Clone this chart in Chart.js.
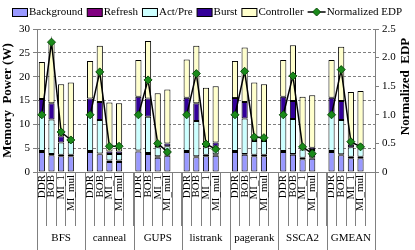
<!DOCTYPE html>
<html>
<head>
<meta charset="utf-8">
<script src="https://cdn.jsdelivr.net/npm/chart.js@4"></script>
<style>
  html, body { margin: 0; padding: 0; background: #fff; }
  #wrap { width: 415px; height: 250px; }
</style>
</head>
<body>
<div id="wrap"><canvas id="chart"></canvas></div>
<script>
// benchmarks and memory configs
const groups = ['BFS', 'canneal', 'GUPS', 'listrank', 'pagerank', 'SSCA2', 'GMEAN'];
const configs = ['DDR', 'BOB', 'MI_1', 'MI_mul'];

// power components (W), 4 configs per benchmark, in group order
const background = [4.2, 3.5, 3.3, 3.3, 4.2, 3.7, 2.1, 2.1, 4.3, 3.8, 3.0, 3.4, 4.2, 3.1, 3.3, 3.4, 4.2, 3.6, 3.3, 3.3, 4.2, 3.6, 2.7, 2.8, 4.2, 3.5, 2.9, 2.9];
const refresh = [0.2, 0.3, 0.3, 0.3, 0.2, 0.2, 0.3, 0.3, 0.2, 0.2, 0.3, 0.3, 0.2, 0.2, 0.3, 0.3, 0.2, 0.2, 0.3, 0.3, 0.2, 0.2, 0.3, 0.3, 0.2, 0.2, 0.3, 0.3];
const actPre = [7.9, 7.2, 2.6, 2.7, 7.7, 7.0, 1.4, 1.4, 7.6, 7.6, 1.9, 1.7, 7.7, 7.4, 1.6, 1.6, 7.7, 7.4, 2.9, 2.9, 7.7, 7.3, 1.7, 1.5, 7.7, 7.2, 2.0, 1.8];
const burst = [3.0, 3.4, 1.3, 0.4, 3.3, 3.8, 0.5, 0.5, 3.7, 3.8, 0.4, 0.6, 3.5, 3.7, 0.4, 0.9, 3.4, 3.5, 0.5, 0.6, 3.7, 3.8, 0.4, 0.5, 3.5, 4.0, 0.5, 0.6];
const controller = [7.8, 12.8, 10.9, 12.1, 7.9, 11.8, 10.3, 10.1, 7.7, 12.1, 10.9, 11.3, 8.0, 12.1, 12.1, 11.8, 7.8, 11.4, 11.8, 11.3, 7.7, 11.7, 10.7, 11.0, 7.9, 11.4, 11.1, 11.4];
// normalized EDP (right axis)
const edp = [1, 2.27, 0.70, 0.56, 1, 1.75, 0.45, 0.45, 1, 1.61, 0.50, 0.35, 1, 1.72, 0.49, 0.40, 1, 1.76, 0.61, 0.60, 1, 1.68, 0.44, 0.32, 1, 1.79, 0.53, 0.44];

// one empty slot after each benchmark
const labels = [];
groups.forEach(() => { configs.forEach(c => labels.push(c)); labels.push(''); });
function withGaps(arr) {
  const out = [];
  groups.forEach((g, gi) => {
    configs.forEach((c, ci) => out.push(arr[gi * configs.length + ci]));
    out.push(null);
  });
  return out;
}

const FONT = "'Liberation Serif', 'Times New Roman', serif";
Chart.defaults.font.family = FONT;
Chart.defaults.color = '#000';

const GREEN = '#1a8a1a';
const GREEN_EDGE = '#0b4d0b';

const barDefaults = {
  type: 'bar',
  borderColor: '#000',
  borderWidth: 1,
  borderSkipped: false,
  barPercentage: 0.64,
  categoryPercentage: 1,
  yAxisID: 'y',
  order: 2
};

const datasets = [
  { ...barDefaults, label: 'Background', data: withGaps(background), backgroundColor: '#9999ff' },
  { ...barDefaults, label: 'Refresh', data: withGaps(refresh), backgroundColor: '#800080' },
  { ...barDefaults, label: 'Act/Pre', data: withGaps(actPre), backgroundColor: '#ccffff' },
  { ...barDefaults, label: 'Burst', data: withGaps(burst), backgroundColor: '#330099' },
  { ...barDefaults, label: 'Controller', data: withGaps(controller), backgroundColor: '#ffffcc' },
  {
    type: 'line',
    label: 'Normalized EDP',
    data: withGaps(edp),
    yAxisID: 'y1',
    borderColor: '#000',
    borderWidth: 1.5,
    pointStyle: 'rectRot',
    pointRadius: 4,
    pointBackgroundColor: GREEN,
    pointBorderColor: GREEN_EDGE,
    pointBorderWidth: 1,
    spanGaps: false,
    order: 1
  }
];

// compact legend, benchmark names, long separators, right axis title
const extras = {
  id: 'extras',
  afterDraw(chart) {
    const { ctx, scales: { x, y1 } } = chart;
    const n = configs.length + 1;
    ctx.save();

    // legend row
    ctx.font = '11px ' + FONT;
    ctx.textBaseline = 'middle';
    ctx.textAlign = 'left';
    const ly = 12;
    const items = chart.data.datasets.map(ds => ({ ds, w: (ds.type === 'line' ? 18 : 16) + 1 + ctx.measureText(ds.label).width }));
    const gap = 4;
    let lx = Math.round((chart.width - items.reduce((s, it) => s + it.w, 0) - gap * (items.length - 1)) / 2);
    items.forEach(({ ds, w }) => {
      if (ds.type === 'line') {
        ctx.strokeStyle = '#000'; ctx.lineWidth = 1.5;
        ctx.beginPath(); ctx.moveTo(lx, ly); ctx.lineTo(lx + 18, ly); ctx.stroke();
        ctx.fillStyle = GREEN; ctx.strokeStyle = GREEN_EDGE; ctx.lineWidth = 1;
        ctx.beginPath();
        ctx.moveTo(lx + 9, ly - 4); ctx.lineTo(lx + 13, ly); ctx.lineTo(lx + 9, ly + 4); ctx.lineTo(lx + 5, ly); ctx.closePath();
        ctx.fill(); ctx.stroke();
        ctx.fillStyle = '#000';
        ctx.fillText(ds.label, lx + 19, ly + 0.5);
      } else {
        ctx.fillStyle = ds.backgroundColor;
        ctx.fillRect(lx + 0.5, ly - 3.5, 15, 8);
        ctx.strokeStyle = '#000'; ctx.lineWidth = 1;
        ctx.strokeRect(lx + 0.5, ly - 3.5, 15, 8);
        ctx.fillStyle = '#000';
        ctx.fillText(ds.label, lx + 17, ly + 0.5);
      }
      lx += w + gap;
    });

    // group boxes under the axis
    ctx.strokeStyle = '#808080';
    ctx.lineWidth = 1;
    ctx.font = '11px ' + FONT;
    ctx.fillStyle = '#000';
    ctx.textAlign = 'center';
    const half = (x.getPixelForValue(1) - x.getPixelForValue(0)) / 2;
    groups.forEach((g, gi) => {
      const left = x.getPixelForValue(gi * n) - half;
      const right = x.getPixelForValue(gi * n + n - 1) + half;
      [left, right].forEach(px => {
        const xx = Math.round(px) + 0.5;
        ctx.beginPath(); ctx.moveTo(xx, x.top); ctx.lineTo(xx, chart.height); ctx.stroke();
      });
      ctx.fillText(g, (left + right) / 2, 238);
    });

    // right axis title, reading upwards
    ctx.font = 'bold 13px ' + FONT;
    ctx.translate(y1.right - 9, (y1.top + y1.bottom) / 2 - 14);
    ctx.rotate(-Math.PI / 2);
    ctx.fillText('Normalized  EDP', 0, 0);
    ctx.restore();
  }
};

new Chart(document.getElementById('chart'), {
  data: { labels, datasets },
  options: {
    responsive: true,
    maintainAspectRatio: false,
    animation: false,
    layout: { padding: { top: 29, right: 0, bottom: 0, left: 0 } },
    plugins: {
      tooltip: { enabled: false },
      legend: { display: false }
    },
    scales: {
      x: {
        stacked: true,
        offset: true,
        grid: { offset: true, drawOnChartArea: false, drawTicks: true, tickLength: 54, color: '#808080' },
        border: { color: '#808080' },
        ticks: { autoSkip: false, maxRotation: 90, minRotation: 90, padding: -51, font: { size: 11 } },
        afterFit: s => { s.height = 78; }
      },
      y: {
        stacked: true,
        position: 'left',
        min: 0,
        max: 30,
        ticks: { stepSize: 5, padding: 3, font: { size: 11 } },
        grid: { color: '#808080', tickLength: 4 },
        border: { color: '#808080', dash: [3, 2] },
        title: { display: true, text: 'Memory  Power (W)', font: { size: 13, weight: 'bold' }, padding: 0 },
        afterFit: s => { s.width = 37; }
      },
      y1: {
        position: 'right',
        min: 0,
        max: 2.5,
        ticks: { stepSize: 0.5, padding: 3, font: { size: 11 } },
        grid: { drawOnChartArea: false, color: '#808080', tickLength: 4 },
        border: { color: '#808080' },
        afterFit: s => { s.width = 40; }
      }
    }
  },
  plugins: [extras]
});
</script>
</body>
</html>
